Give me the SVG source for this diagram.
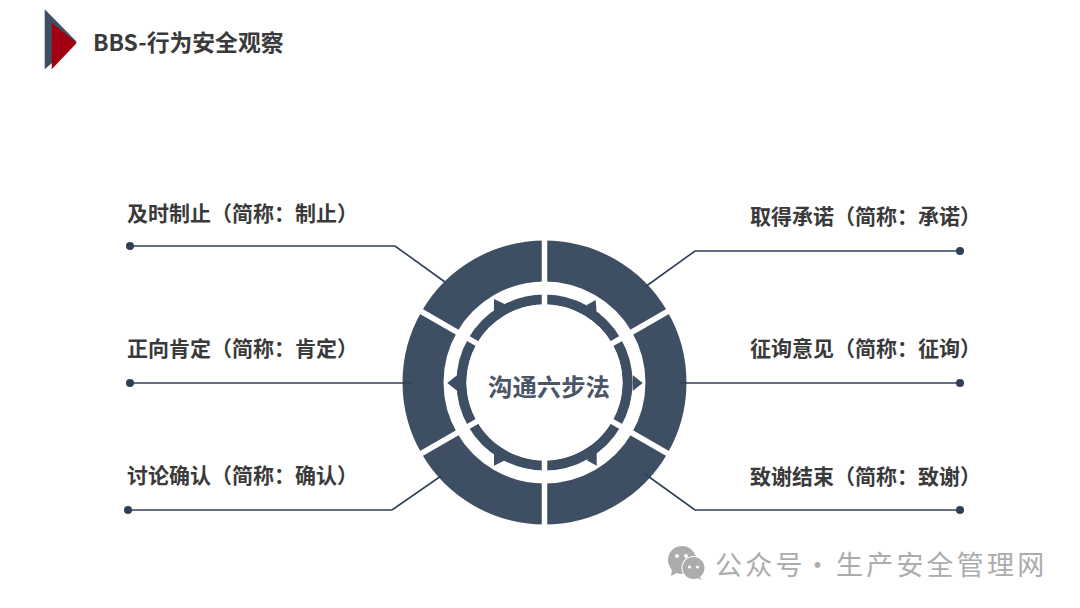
<svg xmlns="http://www.w3.org/2000/svg" width="1080" height="608" viewBox="0 0 1080 608">
<style>
.lab{font-family:"Noto Sans CJK SC","Liberation Sans",sans-serif;font-size:21px;font-weight:700;fill:#3a3a3a}
.conn{fill:none;stroke:#2f3f58;stroke-width:1.6}
.dot{fill:#2f3f58}
.seg{fill:none;stroke:#3e4e63;stroke-width:41}
.tick{fill:none;stroke:#3e4e63;stroke-width:10}
.tri{fill:#3e4e63}
.gap{stroke:#fff;fill:none}
.wm{font-family:"Noto Sans CJK SC","Liberation Sans",sans-serif;font-size:27px;fill:#acacac;letter-spacing:3.2px}
</style>
<rect width="1080" height="608" fill="#fff"/>
<g id="logo"><polygon points="44.7,9.3 76.7,41.7 44.7,69.3" fill="#3e4e63"/><polygon points="51.7,22.7 76.7,43 51.7,69.3" fill="#a00010"/></g>
<text id="title" x="93" y="51" font-family="'Noto Sans CJK SC','Liberation Sans',sans-serif" font-size="22.8" font-weight="700" fill="#3a3a3a">BBS-行为安全观察</text>
<g id="ring">
<path class="seg" d="M544.5 261A121.5 121.5 0 0 1 649.7 321.75"/>
<path class="seg" d="M649.7 321.75A121.5 121.5 0 0 1 649.7 443.25"/>
<path class="seg" d="M649.7 443.25A121.5 121.5 0 0 1 544.5 504"/>
<path class="seg" d="M544.5 504A121.5 121.5 0 0 1 439.3 443.25"/>
<path class="seg" d="M439.3 443.25A121.5 121.5 0 0 1 439.3 321.75"/>
<path class="seg" d="M439.3 321.75A121.5 121.5 0 0 1 544.5 261"/>
<path class="tick" d="M544.5 299.5A83 83 0 0 1 616.4 341"/>
<path class="tick" d="M616.4 341A83 83 0 0 1 616.4 424"/>
<path class="tick" d="M616.4 424A83 83 0 0 1 544.5 465.5"/>
<path class="tick" d="M544.5 465.5A83 83 0 0 1 472.6 424"/>
<path class="tick" d="M472.6 424A83 83 0 0 1 472.6 341"/>
<path class="tick" d="M472.6 341A83 83 0 0 1 544.5 299.5"/>
<polygon class="tri" points="595.7,300 596.7,315 586.7,305"/>
<polygon class="tri" points="494,299 505,304.3 494,315"/>
<polygon class="tri" points="494,465.7 505,460.3 494,450"/>
<polygon class="tri" points="596.7,465.7 586.7,460.3 596.7,450"/>
<g class="gap" stroke-width="5.5">
<path d="M544.5 236V528"/>
<path d="M417 309L672 456"/>
<path d="M417 456L672 309"/>
</g>
<circle cx="544.5" cy="382.5" r="78" fill="#fff"/>
<polygon class="tri" points="642.7,383 632.7,375 632.7,391"/>
<polygon class="tri" points="447.3,383 457.3,375 457.3,391"/>
</g>
<g id="connectors">
<path class="conn" d="M130 246H395L445 282"/><circle class="dot" cx="130" cy="246" r="4"/>
<path class="conn" d="M130 383H411"/><circle class="dot" cx="130" cy="383" r="4"/>
<path class="conn" d="M128 510H392L441 476"/><circle class="dot" cx="128" cy="510" r="4"/>
<path class="conn" d="M960 251H695L645 287"/><circle class="dot" cx="960" cy="251" r="4"/>
<path class="conn" d="M960 383H680"/><circle class="dot" cx="960" cy="383" r="4"/>
<path class="conn" d="M960 510H695L645 474"/><circle class="dot" cx="960" cy="510" r="4"/>
</g>
<text id="center" x="549" y="396" text-anchor="middle" font-family="'Noto Sans CJK SC','Liberation Sans',sans-serif" font-size="24.4" font-weight="700" fill="#4a5568">沟通六步法</text>
<g id="n1"><text class="lab" x="127" y="221">及时制止（简称：制止）</text></g>
<g id="n2"><text class="lab" x="127" y="356">正向肯定（简称：肯定）</text></g>
<g id="n3"><text class="lab" x="127" y="483">讨论确认（简称：确认）</text></g>
<g id="n4"><text class="lab" x="750" y="224">取得承诺（简称：承诺）</text></g>
<g id="n5"><text class="lab" x="750" y="356">征询意见（简称：征询）</text></g>
<g id="n6"><text class="lab" x="750" y="484">致谢结束（简称：致谢）</text></g>
<g id="watermark">
<g fill="#acacac">
<circle cx="682" cy="560" r="14"/><path d="M672 569L671 576L680 571Z"/>
</g>
<circle cx="693.5" cy="568" r="12" fill="#fff"/>
<circle cx="693.5" cy="568" r="11" fill="#acacac"/><path d="M699 576L702 580L695 577Z" fill="#acacac"/>
<circle cx="677" cy="556" r="2" fill="#fff"/><circle cx="686" cy="556" r="2" fill="#fff"/>
<circle cx="689.5" cy="567" r="1.6" fill="#fff"/><circle cx="697.5" cy="567" r="1.6" fill="#fff"/>
<text class="wm" x="715" y="575">公众号</text>
<text class="wm" x="804" y="575">·</text>
<text class="wm" x="836" y="575">生产安全管理网</text>
</g>
</svg>
